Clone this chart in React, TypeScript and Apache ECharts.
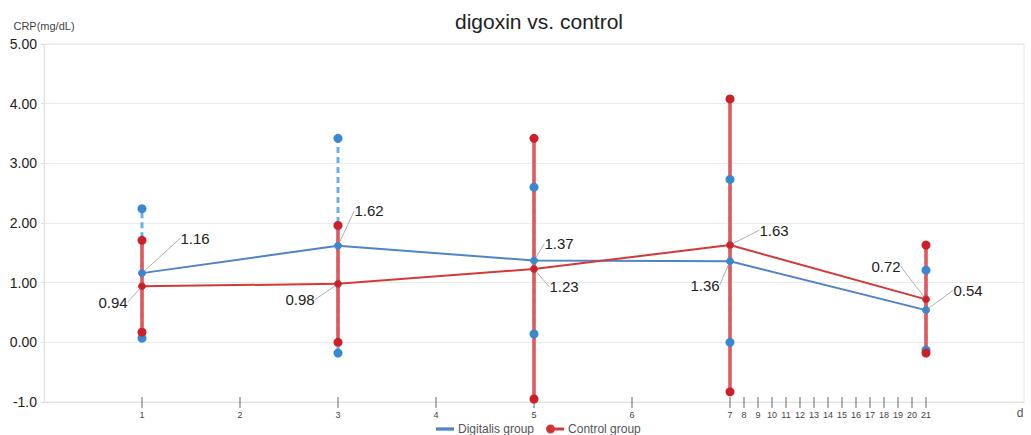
import React, { useEffect, useRef } from "react";
import * as echarts from "echarts";

// ---- data ----
const days = [1, 3, 5, 7, 21];
const tickDays = [1, 2, 3, 4, 5, 6, 7, 8, 9, 10, 11, 12, 13, 14, 15, 16, 17, 18, 19, 20, 21];
const yTicks = [-1, 0, 1, 2, 3, 4, 5];

const digitalisMean = [1.16, 1.62, 1.37, 1.36, 0.54];
const digitalisHigh = [2.24, 3.42, 2.6, 2.73, 1.21];
const digitalisLow = [0.07, -0.18, 0.14, 0.0, -0.13];

const controlMean = [0.94, 0.98, 1.23, 1.63, 0.72];
const controlHigh = [1.71, 1.96, 3.42, 4.08, 1.63];
const controlLow = [0.17, 0.0, -0.95, -0.83, -0.18];

// label offsets (style, px)
const digitalisLabelOffsets = [
  [53, -35],
  [31, -35],
  [25, -17],
  [-25, 24],
  [42, -20],
];
const controlLabelOffsets = [
  [-29, 16],
  [-38, 16],
  [30, 18],
  [44, -15],
  [-40, -33],
];

// axis scale: days 1..7 evenly, then days 8..21 compressed
const pos = (d: number) => (d <= 7 ? d : 7 + (d - 7) / 7);

const BLUE_LINE = "#4f84c8";
const BLUE_DOT = "#3b88d2";
const BLUE_BAR = "#6cb0ea";
const RED_LINE = "#d23a3a";
const RED_DOT = "#cc1f2a";
const RED_BAR = "#df5a5f";
const FONT = "Liberation Sans, Arial, sans-serif";

function errorBar(low: number[], high: number[], stroke: string, dashed: boolean, width: number, z: number) {
  return {
    type: "custom",
    silent: true,
    z,
    encode: { x: 0, y: [1, 2] },
    data: days.map((d, i) => [pos(d), low[i], high[i]]),
    renderItem: (_p: any, api: any) => {
      const a = api.coord([api.value(0), api.value(1)]);
      const b = api.coord([api.value(0), api.value(2)]);
      return {
        type: "line",
        shape: { x1: a[0], y1: a[1], x2: b[0], y2: b[1] },
        style: { stroke, lineWidth: width, lineDash: dashed ? [6, 4] : null },
      };
    },
  };
}

function endDots(low: number[], high: number[], color: string, z: number) {
  const data: number[][] = [];
  days.forEach((d, i) => {
    data.push([pos(d), high[i]]);
    data.push([pos(d), low[i]]);
  });
  return {
    type: "scatter",
    silent: true,
    z,
    symbolSize: 9,
    itemStyle: { color, opacity: 1 },
    data,
  };
}

function meanLine(name: string, values: number[], lineColor: string, dotColor: string, offsets: number[][], z: number) {
  return {
    type: "line",
    name,
    z,
    data: days.map((d, i) => [pos(d), values[i]]),
    symbol: "circle",
    symbolSize: 7,
    color: lineColor,
    lineStyle: { color: lineColor, width: 2 },
    itemStyle: { color: dotColor, borderColor: lineColor, borderWidth: 1 },
    label: {
      show: true,
      position: "inside",
      formatter: (p: any) => p.value[1].toFixed(2),
      fontFamily: FONT,
      fontSize: 15,
      color: "#222",
    },
    labelLayout: (p: any) => ({ dx: offsets[p.dataIndex][0], dy: offsets[p.dataIndex][1] }),
    labelLine: { show: true, lineStyle: { color: "#b0b0b0", width: 1 } },
  };
}

const option: any = {
  animation: false,
  backgroundColor: "#fff",
  title: {
    text: "digoxin vs. control",
    left: 534,
    top: 6,
    textAlign: "center",
    textStyle: { fontFamily: FONT, fontSize: 21, fontWeight: "normal", color: "#222" },
  },
  legend: {
    left: 431,
    top: 418,
    itemWidth: 16,
    itemHeight: 7,
    itemGap: 12,
    symbolKeepAspect: true,
    textStyle: { fontFamily: FONT, fontSize: 12, color: "#555" },
    data: [
      { name: "Digitalis group", icon: "path://M0,0 L16,0 L16,1.3 L0,1.3 Z" },
      {
        name: "Control group",
        icon: "path://M3.5,0 A3.5,3.5 0 1,1 3.5,7 A3.5,3.5 0 1,1 3.5,0 Z M3.5,2.9 L16,2.9 L16,4.1 L3.5,4.1 Z",
      },
    ],
  },
  grid: {
    left: 44,
    right: 7,
    top: 44,
    bottom: 33,
    show: true,
    borderColor: "#e6e6e6",
    borderWidth: 1,
  },
  xAxis: {
    type: "value",
    min: 0,
    max: 10,
    name: "d",
    nameLocation: "end",
    nameGap: -4,
    nameTextStyle: { fontFamily: FONT, fontSize: 12, color: "#555", align: "center", verticalAlign: "top", padding: [5, 0, 0, 0] },
    axisLine: { show: true, onZero: false, lineStyle: { color: "#e3e3e3" } },
    axisTick: { show: false },
    axisLabel: { show: false },
    splitLine: { show: false },
  },
  yAxis: {
    type: "value",
    min: yTicks[0],
    max: yTicks[yTicks.length - 1],
    interval: 1,
    name: "CRP(mg/dL)",
    nameLocation: "end",
    nameGap: 13,
    nameTextStyle: { fontFamily: FONT, fontSize: 11, color: "#444" },
    axisLine: { show: true, lineStyle: { color: "#e3e3e3" } },
    axisTick: { show: true, length: 3, lineStyle: { color: "#dcdcdc" } },
    axisLabel: {
      fontFamily: FONT,
      fontSize: 14,
      color: "#222",
      margin: 7,
      formatter: (v: number) => (v === -1 ? "-1.0" : v.toFixed(2)),
    },
    splitLine: { show: true, lineStyle: { color: "#ebebeb" } },
  },
  series: [
    {
      type: "custom",
      silent: true,
      clip: false,
      z: 1,
      encode: { x: 0, y: 1 },
      data: tickDays.map((d) => [pos(d), yTicks[0], d]),
      renderItem: (_p: any, api: any) => {
        const p = api.coord([api.value(0), api.value(1)]);
        return {
          type: "group",
          children: [
            {
              type: "line",
              shape: { x1: p[0], y1: p[1] - 5, x2: p[0], y2: p[1] + 6 },
              style: { stroke: "#666", lineWidth: 1 },
            },
            {
              type: "text",
              x: p[0],
              y: p[1] + 8,
              style: {
                text: String(api.value(2)),
                fill: "#444",
                font: "9px " + FONT,
                align: "center",
                verticalAlign: "top",
              },
            },
          ],
        };
      },
    },
    errorBar(digitalisLow, digitalisHigh, BLUE_BAR, true, 3, 2),
    errorBar(controlLow, controlHigh, RED_BAR, false, 3.6, 3),
    endDots(digitalisLow, digitalisHigh, BLUE_DOT, 4),
    endDots(controlLow, controlHigh, RED_DOT, 5),
    meanLine("Digitalis group", digitalisMean, BLUE_LINE, BLUE_DOT, digitalisLabelOffsets, 6),
    meanLine("Control group", controlMean, RED_LINE, RED_DOT, controlLabelOffsets, 7),
  ],
};

export default function App() {
  const ref = useRef<HTMLDivElement>(null);
  useEffect(() => {
    document.body.style.margin = "0";
    const chart = echarts.init(ref.current as HTMLDivElement, null, { renderer: "svg" });
    chart.setOption(option);
    return () => chart.dispose();
  }, []);
  return <div ref={ref} style={{ width: 1031, height: 435 }} />;
}
